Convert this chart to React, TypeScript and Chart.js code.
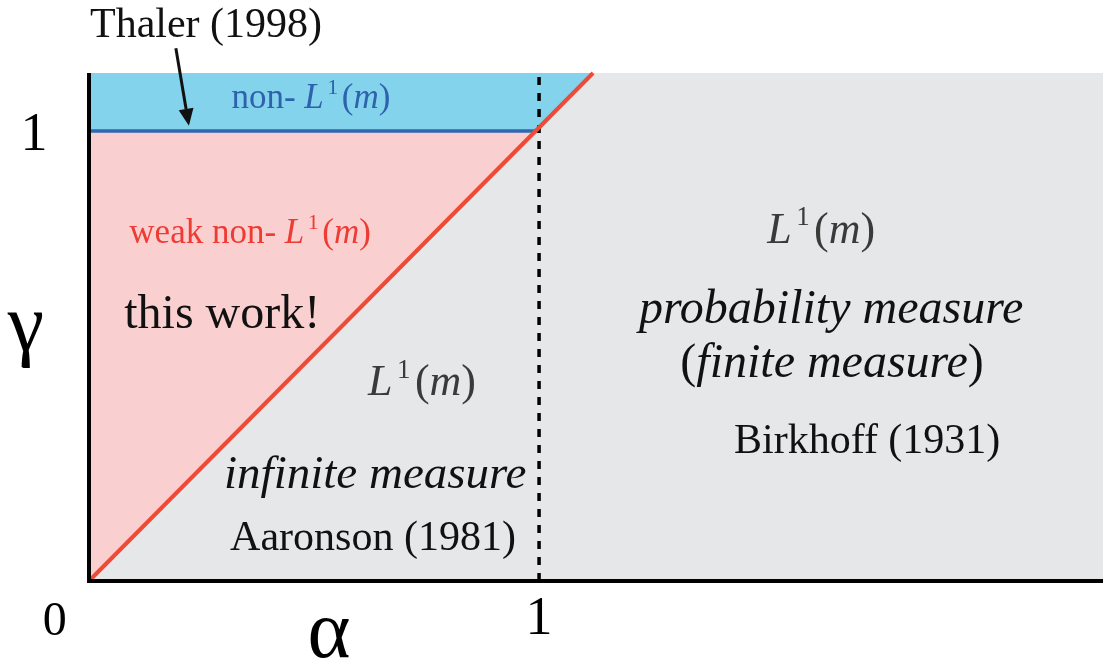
import React, { useEffect, useRef } from "react";
import { Chart, registerables } from "chart.js";

Chart.register(...registerables);

// ---- data (in alpha / gamma units) ----
const X_MAX = 2.253;
const Y_MAX = 1.129;
const axisPts = [
  { x: 0, y: 1.129 },
  { x: 0, y: 0 },
  { x: 2.253, y: 0 },
];
const diagonalPts = [
  { x: 0, y: 0 },
  { x: 1.12, y: 1.129 },
];
const thalerPts = [
  { x: 0, y: 1 },
  { x: 1, y: 1 },
];
const alphaOnePts = [
  { x: 1, y: 0 },
  { x: 1, y: 1.129 },
];
const nonL1Region = [
  { x: 0, y: 1 },
  { x: 1, y: 1 },
  { x: 1.12, y: 1.129 },
  { x: 0, y: 1.129 },
];
const weakRegion = [
  { x: 0, y: 0 },
  { x: 0, y: 1 },
  { x: 1, y: 1 },
];
const arrowFrom = { x: 0.193, y: 1.184 };
const arrowTo = { x: 0.222, y: 1.012 };

const FAMILY = "\"Liberation Serif\", \"Times New Roman\", Times, serif";

type Seg = { t: string; it?: boolean; sup?: boolean; gap?: number };

function drawRich(
  ctx: CanvasRenderingContext2D,
  segs: Seg[],
  cx: number,
  base: number,
  size: number,
  color: string
) {
  const fontOf = (s: Seg) =>
    `${s.it ? "italic " : ""}${s.sup ? Math.round(size * 0.62) : size}px ${FAMILY}`;
  let total = 0;
  const ws: number[] = [];
  segs.forEach((s) => {
    ctx.font = fontOf(s);
    const w = ctx.measureText(s.t).width + (s.gap || 0) * size;
    ws.push(w);
    total += w;
  });
  let x = cx - total / 2;
  ctx.fillStyle = color;
  ctx.textAlign = "left";
  ctx.textBaseline = "alphabetic";
  segs.forEach((s, i) => {
    ctx.font = fontOf(s);
    ctx.fillText(s.t, x, s.sup ? base - size * 0.4 : base);
    x += ws[i];
  });
}

const L1m = (prefix?: string): Seg[] => {
  const a: Seg[] = [];
  if (prefix) a.push({ t: prefix });
  a.push({ t: "L", it: true, gap: 0.1 });
  a.push({ t: "1", sup: true, gap: 0.1 });
  a.push({ t: "(" });
  a.push({ t: "m", it: true });
  a.push({ t: ")" });
  return a;
};

const bgPlugin = {
  id: "bg",
  beforeDraw(chart: any) {
    const { ctx, chartArea } = chart;
    ctx.save();
    ctx.fillStyle = "#e6e7e8";
    ctx.fillRect(
      chartArea.left,
      chartArea.top,
      chartArea.right - chartArea.left,
      chartArea.bottom - chartArea.top
    );
    ctx.restore();
  },
};

const annotPlugin = {
  id: "annot",
  afterDraw(chart: any) {
    const { ctx } = chart;
    const xs = chart.scales.x;
    const ys = chart.scales.y;
    const px = (v: number) => xs.getPixelForValue(v);
    const py = (v: number) => ys.getPixelForValue(v);
    ctx.save();

    // arrow
    const x0 = px(arrowFrom.x), y0 = py(arrowFrom.y);
    const x1 = px(arrowTo.x), y1 = py(arrowTo.y);
    const ang = Math.atan2(y1 - y0, x1 - x0);
    const head = 17, hw = 7.5;
    const bx = x1 - head * Math.cos(ang), by = y1 - head * Math.sin(ang);
    ctx.strokeStyle = "#111";
    ctx.lineWidth = 3;
    ctx.beginPath();
    ctx.moveTo(x0, y0);
    ctx.lineTo(bx, by);
    ctx.stroke();
    ctx.fillStyle = "#111";
    ctx.beginPath();
    ctx.moveTo(x1, y1);
    ctx.lineTo(bx + hw * Math.sin(ang), by - hw * Math.cos(ang));
    ctx.lineTo(bx - hw * Math.sin(ang), by + hw * Math.cos(ang));
    ctx.closePath();
    ctx.fill();

    const black = "#111";
    const grey = "#3a3a3a";
    drawRich(ctx, [{ t: "Thaler (1998)" }], px(0.26), py(1.209), 42, black);
    drawRich(ctx, L1m("non- "), px(0.493), py(1.051), 35, "#2f62ad");
    drawRich(ctx, L1m("weak non- "), px(0.358), py(0.751), 35, "#ee3b34");
    drawRich(ctx, [{ t: "this work!" }], px(0.296), py(0.562), 48, black);
    drawRich(ctx, L1m(), px(0.74), py(0.413), 44, grey);
    drawRich(ctx, [{ t: "infinite measure", it: true }], px(0.636), py(0.207), 47, black);
    drawRich(ctx, [{ t: "Aaronson (1981)" }], px(0.631), py(0.069), 42, black);
    drawRich(ctx, L1m(), px(1.627), py(0.751), 44, grey);
    drawRich(ctx, [{ t: "probability measure", it: true }], px(1.649), py(0.573), 48, black);
    drawRich(
      ctx,
      [{ t: "(" }, { t: "finite measure", it: true }, { t: ")" }],
      px(1.651),
      py(0.453),
      48,
      black
    );
    drawRich(ctx, [{ t: "Birkhoff (1931)" }], px(1.729), py(0.284), 42, black);

    // tick labels and axis titles
    drawRich(ctx, [{ t: "0" }], px(-0.076), py(-0.12), 48, "#000");
    drawRich(ctx, [{ t: "1" }], px(1), py(-0.118), 54, "#000");
    drawRich(ctx, [{ t: "1" }], px(-0.122), py(0.958), 54, "#000");
    drawRich(ctx, [{ t: "α" }], px(0.533), py(-0.169), 82, "#000");
    drawRich(ctx, [{ t: "γ" }], px(-0.14), py(0.513), 82, "#000");
    ctx.restore();
  },
};

export default function App() {
  const ref = useRef<HTMLCanvasElement | null>(null);
  useEffect(() => {
    document.body.style.margin = "0";
    if (!ref.current) return;
    const line = (data: any, color: string, width: number, order: number, dash: number[] = []) => ({
      data,
      borderColor: color,
      borderWidth: width,
      borderDash: dash,
      pointRadius: 0,
      tension: 0,
      fill: false,
      clip: false as any,
      order,
      borderCapStyle: "butt",
    });
    const region = (data: any, color: string, order: number) => ({
      data,
      borderWidth: 0,
      borderColor: "rgba(0,0,0,0)",
      backgroundColor: color,
      pointRadius: 0,
      tension: 0,
      fill: "shape",
      clip: false as any,
      order,
    });
    const chart = new Chart(ref.current, {
      type: "line",
      data: {
        datasets: [
          line(axisPts, "#000", 4, 0) as any,
          line(diagonalPts, "#ef4a36", 4, 1) as any,
          line(alphaOnePts, "#000", 3.5, 2, [8, 8]) as any,
          line(thalerPts, "#2f67b2", 3.5, 3) as any,
          region(weakRegion, "#f9d0cf", 5) as any,
          region(nonL1Region, "#84d3ec", 5) as any,
        ],
      },
      options: {
        animation: false,
        responsive: false,
        maintainAspectRatio: false,
        layout: { padding: { left: 89, top: 73, right: 0, bottom: 81 } },
        plugins: { legend: { display: false }, tooltip: { enabled: false } },
        scales: {
          x: { type: "linear", min: 0, max: X_MAX, display: false },
          y: { type: "linear", min: 0, max: Y_MAX, display: false },
        },
        events: [],
      },
      plugins: [bgPlugin, annotPlugin],
    });
    let alive = true;
    const fonts: any = (document as any).fonts;
    if (fonts && fonts.load) {
      Promise.all([
        fonts.load(`40px "Liberation Serif"`),
        fonts.load(`italic 40px "Liberation Serif"`),
        fonts.load(`40px "Liberation Serif"`, "αγ"),
      ])
        .catch(() => null)
        .then(() => {
          if (alive) chart.draw();
        });
    }
    return () => {
      alive = false;
      chart.destroy();
    };
  }, []);
  return (
    <div style={{ position: "fixed", left: 0, top: 0, width: 1103, height: 662, background: "#fff" }}>
      <canvas ref={ref} width={1103} height={662} />
    </div>
  );
}
